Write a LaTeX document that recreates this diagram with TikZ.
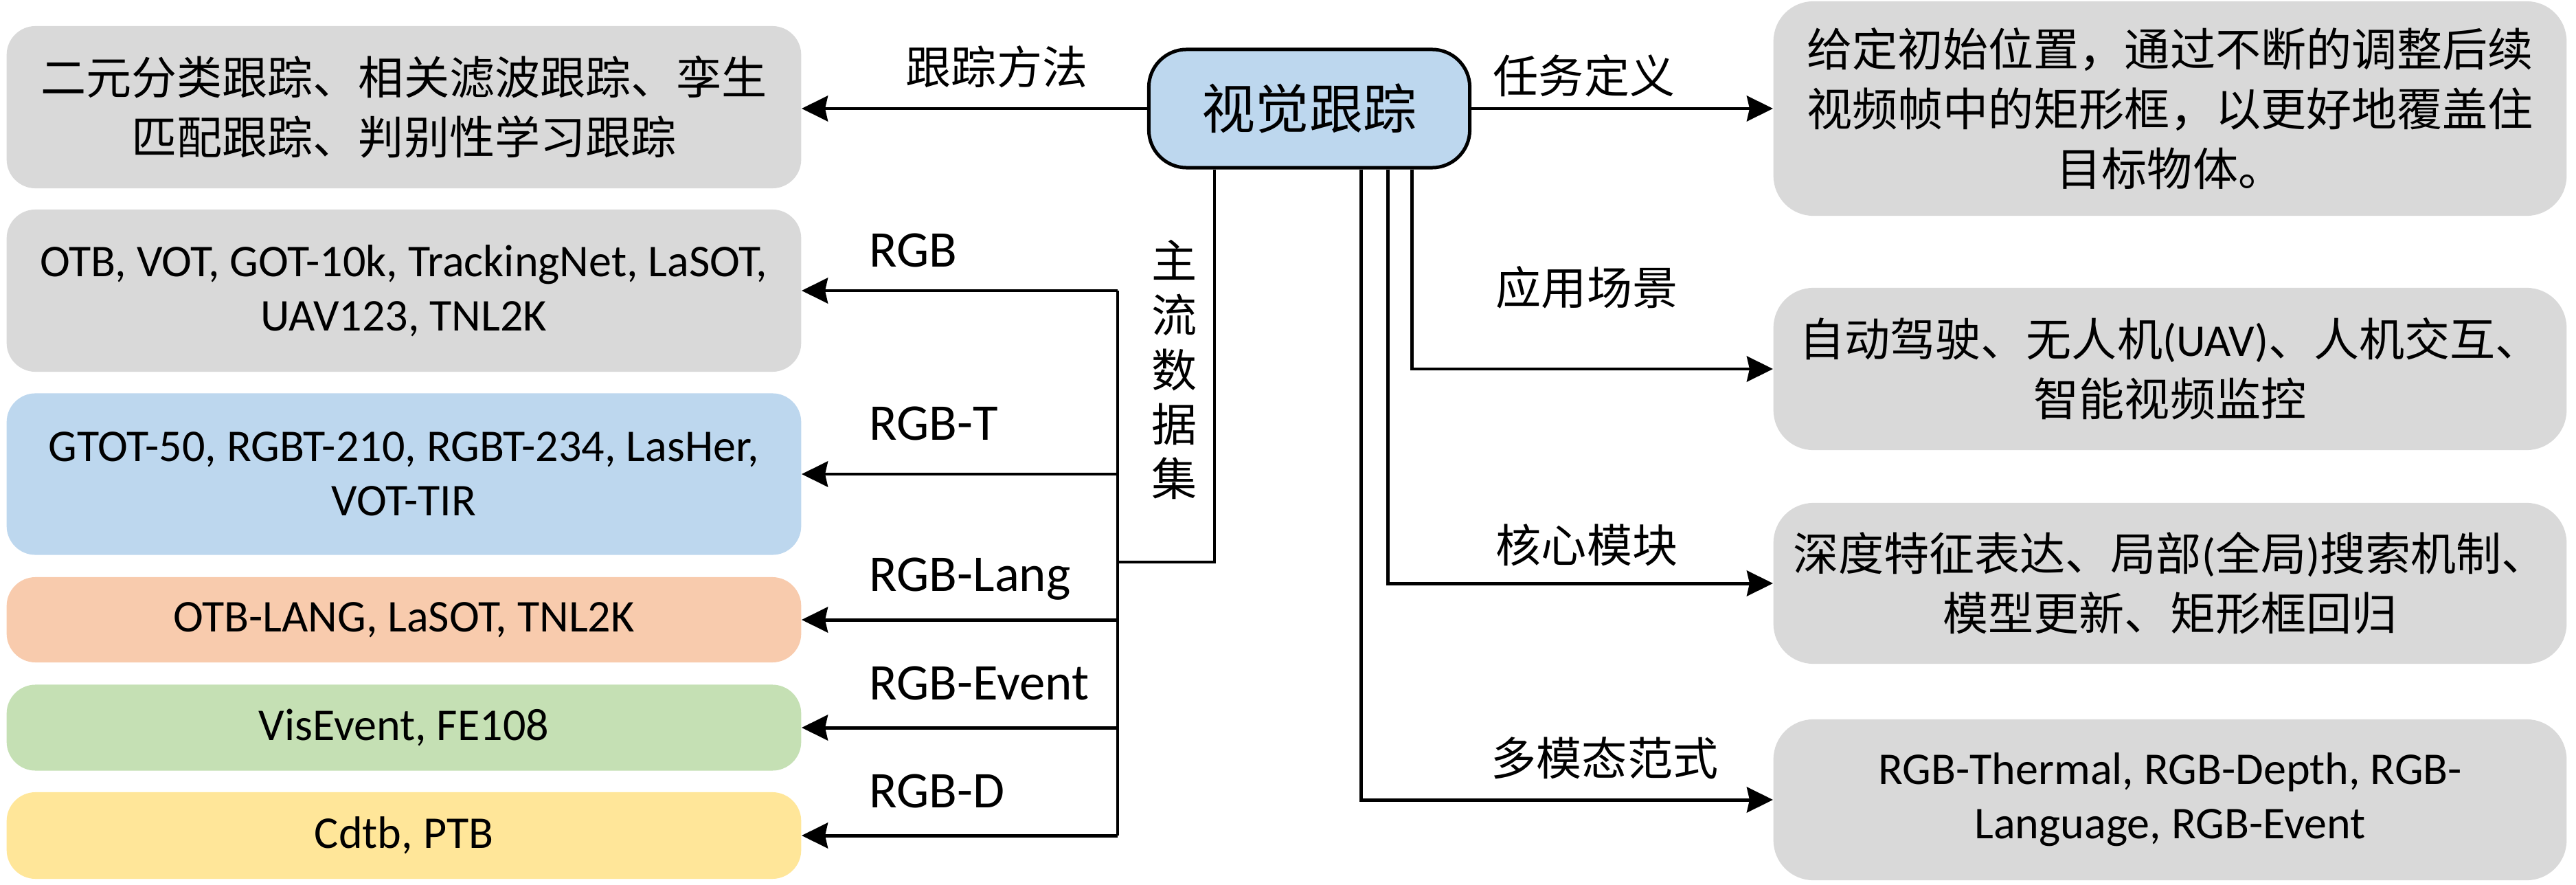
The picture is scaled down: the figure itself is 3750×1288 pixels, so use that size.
\documentclass[tikz,border=0pt]{standalone}
\usepackage{fontspec}
\setmainfont{Carlito}
\newfontfamily\cjk{Noto Sans CJK SC}
\usetikzlibrary{arrows.meta,calc}
\definecolor{cgrey}{HTML}{D9D9D9}
\definecolor{cblue}{HTML}{BDD7EE}
\definecolor{corange}{HTML}{F8CBAD}
\definecolor{cgreen}{HTML}{C5E0B4}
\definecolor{cyellow}{HTML}{FFE699}
\begin{document}
\begin{tikzpicture}[x=0.01cm,y=-0.01cm,
  box/.style={inner sep=0pt, align=center, text=black, minimum width=11.56cm},
  lbox/.style={box, rounded corners=0.42cm},
  rbox/.style={box, rounded corners=0.58cm, fill=cgrey, minimum width=11.54cm},
  cjkt/.style={font=\fontsize{18.8pt}{24.8pt}\selectfont\cjk},
  mixt/.style={font=\fontsize{18.8pt}{24.8pt}\selectfont},
  lat/.style={font=\fontsize{18.8pt}{22.4pt}\selectfont},
  lab/.style={inner sep=0pt, font=\fontsize{18.8pt}{24pt}\selectfont\cjk},
  llab/.style={inner sep=0pt, anchor=base west, font=\fontsize{21.3pt}{25pt}\selectfont},
  ln/.style={line width=1.35pt},
  arr/.style={line width=1.42pt, -{Stealth[length=0.38cm,width=0.37cm,inset=0.04cm]}}
]
\useasboundingbox (0,0) rectangle (3750,1288);

% centre
\node[draw, line width=1.42pt, fill=cblue, rounded corners=0.55cm, minimum width=4.67cm,
      minimum height=1.72cm, inner sep=0pt, font=\fontsize{22.2pt}{26pt}\selectfont\cjk] (C) at (1906,158) {视觉跟踪};

% left boxes
\node[lbox, cjkt, fill=cgrey, minimum height=2.36cm] (L1) at (588,156) {二元分类跟踪、相关滤波跟踪、孪生\\匹配跟踪、判别性学习跟踪};
\node[lbox, lat, fill=cgrey, minimum height=2.36cm] (L2) at (588,423) {OTB, VOT, GOT-10k, TrackingNet, LaSOT,\\UAV123, TNL2K};
\node[lbox, lat, fill=cblue, minimum height=2.35cm] (L3) at (588,690) {GTOT-50, RGBT-210, RGBT-234, LasHer,\\VOT-TIR};
\node[lbox, lat, fill=corange, minimum height=1.24cm] (L4) at (588,902) {OTB-LANG, LaSOT, TNL2K};
\node[lbox, lat, fill=cgreen, minimum height=1.25cm] (L5) at (588,1059) {VisEvent, FE108};
\node[lbox, lat, fill=cyellow, minimum height=1.26cm] (L6) at (588,1216) {Cdtb, PTB};

% right boxes
\node[rbox, cjkt, minimum height=3.12cm] (R1) at (3159,158) {给定初始位置，通过不断的调整后续\\视频帧中的矩形框，以更好地覆盖住\\目标物体。};
\node[rbox, mixt, minimum height=2.36cm] (R2) at (3159,537) {{\cjk 自动驾驶、无人机}(UAV){\cjk 、人机交互、}\\{\cjk 智能视频监控}};
\node[rbox, mixt, minimum height=2.34cm] (R3) at (3159,849) {{\cjk 深度特征表达、局部}({\cjk 全局}){\cjk 搜索机制、}\\{\cjk 模型更新、矩形框回归}};
\node[rbox, lat, minimum height=2.34cm] (R4) at (3159,1164) {RGB-Thermal, RGB-Depth, RGB-\\Language, RGB-Event};

% labels
\node[lab] (tm) at (1451,97) {跟踪方法};
\node[lab] (td) at (2306,110) {任务定义};
\node[lab] (ta) at (2310,418) {应用场景};
\node[lab] (tc) at (2310,793) {核心模块};
\node[lab] (tp) at (2336,1103) {多模态范式};
\node[llab] (d1) at (1265,388) {RGB};
\node[llab] (d2) at (1265,640) {RGB-T};
\node[llab] (d3) at (1265,860) {RGB-Lang};
\node[llab] (d4) at (1265,1018) {RGB-Event};
\node[llab] (d5) at (1265,1175) {RGB-D};
\node[inner sep=0pt, align=center, font=\fontsize{18.8pt}{22.6pt}\selectfont\cjk] (vt) at (1710,538) {主\\流\\数\\据\\集};

% coordinates
\coordinate (bus) at (1627,0);
\coordinate (br) at (1768,818);
\coordinate (v1) at (2055,0);
\coordinate (v2) at (2020,0);
\coordinate (v3) at (1981,0);

% left connectors
\draw[arr] (C.west) -- (L1.east |- C.west);
\draw[ln] (br |- C.south) -- (br) -- (br -| bus);
\draw[ln] (L2.east -| bus) -- (L6.east -| bus);
\foreach \n in {L2,L3,L4,L5,L6}
  \draw[arr] (\n.east -| bus) -- (\n.east);

% right connectors
\draw[arr] (C.east) -- (R1.west |- C.east);
\draw[arr] (v1 |- C.south) -- (v1 |- R2.west) -- (R2.west);
\draw[arr] (v2 |- C.south) -- (v2 |- R3.west) -- (R3.west);
\draw[arr] (v3 |- C.south) -- (v3 |- R4.west) -- (R4.west);
\end{tikzpicture}
\end{document}
